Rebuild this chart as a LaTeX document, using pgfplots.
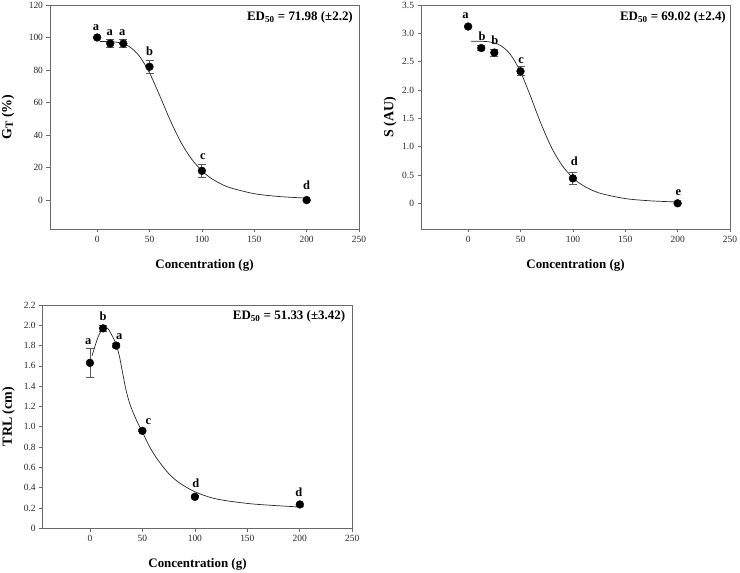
\documentclass[border=0pt]{standalone}
\usepackage{fontspec}
\setmainfont{Liberation Serif}
\usepackage{pgfplots}
\pgfplotsset{compat=1.18}
\definecolor{axisgray}{RGB}{105,105,105}
\definecolor{errgray}{RGB}{90,90,90}

\tikzset{
  letlab/.style={anchor=base, font=\fontsize{12.5}{14}\selectfont\bfseries, inner sep=0pt},
  edlab/.style={anchor=east, font=\fontsize{13}{15}\selectfont\bfseries, inner sep=0pt},
}
\pgfplotsset{
  panel/.style={
    scale only axis, width=309bp, height=224bp,
    axis line style={draw=axisgray, line width=0.9bp},
    tick style={draw=axisgray, line width=0.7bp},
    tick align=outside, major tick length=3.5bp,
    xtick pos=bottom, ytick pos=left,
    xmin=-45, xmax=250, xtick={0,50,100,150,200,250},
    tick label style={font=\fontsize{9.5}{11}\selectfont, text=black!85},
    /pgf/number format/assume math mode=true,
    xlabel={\textbf{Concentration (g)}},
    every axis x label/.style={at={(axis description cs:0.5,-0.161)}, anchor=center,
      font=\fontsize{13}{15}\selectfont},
    clip=false,
  },
  ylab/.style={every axis y label/.style={at={(axis description cs:#1,0.5)}, rotate=90,
      anchor=center, font=\fontsize{14}{16}\selectfont}},
  pts/.style={only marks, mark=*, mark size=3.9bp, mark options={fill=black, draw=black},
    error bars/.cd, y dir=both, y explicit,
    error bar style={draw=errgray, line width=0.8bp},
    error mark options={rotate=90, mark size=4bp, draw=errgray, line width=0.8bp}},
  fitline/.style={no markers, smooth, tension=0.5, line width=0.7bp, draw=black!85},
}

\begin{document}
\begin{tikzpicture}
\useasboundingbox (0,0) rectangle (740bp,573bp);

% ---------- Panel 1: GT (%) ----------
\begin{axis}[panel, at={(50bp,344bp)}, anchor=south west,
  ymin=-17.8, ymax=120, ytick={0,20,40,60,80,100,120},
  ylabel={\textbf{G\raisebox{-0.25ex}{\fontsize{11}{12}\selectfont T} (\%)}},
  ylab=-0.136]
\addplot[fitline] coordinates {
 (2.5,97.5) (10,97.47) (20,96.97) (30,94.71) (40,88.84) (50,78.2) (60,63.87)
 (70,48.75) (80,35.54) (90,25.36) (100,18.0) (110,12.9) (125,8.02) (150,3.93)
 (175,2.11) (200,1.22)};
\addplot[pts] coordinates {
 (0,100) +- (0,0)
 (12.5,96.3) +- (0,2.5)
 (25,96.3) +- (0,2.5)
 (50,82) +- (0,4)
 (100,18) +- (0,4)
 (200,0) +- (0,0)};
\node[letlab] at (axis cs:-1,104.2) {a};
\node[letlab] at (axis cs:12,101.5) {a};
\node[letlab] at (axis cs:24,101.5) {a};
\node[letlab] at (axis cs:50,89.2) {b};
\node[letlab] at (axis cs:101,25) {c};
\node[letlab] at (axis cs:200,6.6) {d};
\node[edlab] at ([xshift=-6bp,yshift=-12bp]rel axis cs:1,1) {ED\textsubscript{50} = 71.98 (±2.2)};
\end{axis}

% ---------- Panel 2: S (AU) ----------
\begin{axis}[panel, at={(421bp,344bp)}, anchor=south west,
  ymin=-0.454, ymax=3.5, ytick={0,0.5,1,1.5,2,2.5,3,3.5},
  yticklabels={0,0.5,1.0,1.5,2.0,2.5,3.0,3.5},
  ylabel={\textbf{S (AU)}},
  ylab=-0.100]
\addplot[fitline] coordinates {
 (2.5,2.86) (10,2.86) (20,2.849) (30,2.795) (40,2.636) (50,2.32) (60,1.867)
 (69,1.43) (80,0.969) (90,0.662) (100,0.45) (110,0.31) (125,0.1825) (150,0.083)
 (175,0.042) (200,0.023)};
\addplot[pts] coordinates {
 (0,3.12) +- (0,0.02)
 (12.5,2.74) +- (0,0.05)
 (25,2.66) +- (0,0.06)
 (50,2.33) +- (0,0.08)
 (100,0.44) +- (0,0.10)
 (200,0) +- (0,0)};
\node[letlab] at (axis cs:-2.5,3.265) {a};
\node[letlab] at (axis cs:13.3,2.88) {b};
\node[letlab] at (axis cs:25.4,2.81) {b};
\node[letlab] at (axis cs:50.5,2.47) {c};
\node[letlab] at (axis cs:101.3,0.658) {d};
\node[letlab] at (axis cs:200.8,0.14) {e};
\node[edlab] at ([xshift=-4bp,yshift=-12bp]rel axis cs:1,1) {ED\textsubscript{50} = 69.02 (±2.4)};
\end{axis}

% ---------- Panel 3: TRL (cm) ----------
\begin{axis}[panel, at={(42.7bp,44.7bp)}, anchor=south west, width=309.6bp, height=223.3bp,
  ymin=0, ymax=2.2, ytick={0,0.2,0.4,0.6,0.8,1,1.2,1.4,1.6,1.8,2,2.2},
  yticklabels={0,0.2,0.4,0.6,0.8,1.0,1.2,1.4,1.6,1.8,2.0,2.2},
  ylabel={\textbf{TRL (cm)}},
  ylab=-0.110]
\addplot[fitline] coordinates {
 (2,1.70) (5,1.80) (8,1.89) (11,1.95) (14,1.975) (17,1.97) (20,1.92) (23,1.86)
 (25,1.81) (28,1.70) (31,1.54) (34,1.38) (37,1.26) (40,1.17) (45,1.05) (50,0.95)
 (57,0.80) (65,0.67) (75,0.54) (85,0.45) (100,0.36) (120,0.29) (150,0.245)
 (175,0.225) (200,0.21)};
\addplot[pts] coordinates {
 (0,1.63) +- (0,0.14)
 (12.5,1.97) +- (0,0.03)
 (25,1.80) +- (0,0.02)
 (50,0.96) +- (0,0.01)
 (100,0.31) +- (0,0.01)
 (200,0.235) +- (0,0.015)};
\node[letlab] at (axis cs:-1.6,1.806) {a};
\node[letlab] at (axis cs:12.5,2.05) {b};
\node[letlab] at (axis cs:28,1.862) {a};
\node[letlab] at (axis cs:55.6,1.027) {c};
\node[letlab] at (axis cs:101,0.404) {d};
\node[letlab] at (axis cs:199,0.311) {d};
\node[edlab] at ([xshift=-7bp,yshift=-11bp]rel axis cs:1,1) {ED\textsubscript{50} = 51.33 (±3.42)};
\end{axis}
\end{tikzpicture}
\end{document}
